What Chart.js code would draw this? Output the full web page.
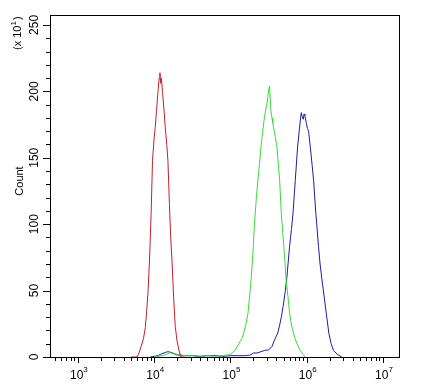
<!DOCTYPE html>
<html>
<head>
<meta charset="utf-8">
<script src="https://cdn.jsdelivr.net/npm/chart.js@4"></script>
<style>
  body { margin: 0; background: #fff; }
  #wrap { width: 425px; height: 386px; }
</style>
</head>
<body>
<div id="wrap"><canvas id="chart" width="425" height="386"></canvas></div>
<script>
// x values are log10 of the fluorescence intensity
const redX = [3.70, 3.775, 3.80, 3.83, 3.86, 3.883, 3.90, 3.92, 3.939, 3.96, 3.978, 4.00, 4.014, 4.03, 4.049, 4.065, 4.075, 4.085, 4.095, 4.11, 4.13, 4.145, 4.165, 4.18, 4.20, 4.215, 4.233, 4.255, 4.276, 4.30, 4.325, 4.351, 4.40];
const redY = [0, 0, 3, 8, 14, 22, 33, 50, 73, 108, 148, 165, 173, 185, 199, 210, 214, 206, 210, 199, 185, 173, 160, 148, 115, 92, 73, 45, 23, 12, 5, 0, 0];

const greenX = [4.00, 4.10, 4.16, 4.20, 4.25, 4.30, 4.40, 4.50, 4.60, 4.70, 4.80, 4.90, 4.97, 5.00, 5.06, 5.10, 5.16, 5.20, 5.23, 5.25, 5.27, 5.285, 5.30, 5.31, 5.325, 5.34, 5.36, 5.38, 5.40, 5.42, 5.44, 5.456, 5.475, 5.49, 5.50, 5.513, 5.525, 5.535, 5.545, 5.555, 5.566, 5.59, 5.61, 5.645, 5.667, 5.70, 5.73, 5.755, 5.775, 5.80, 5.84, 5.88, 5.915, 5.95, 5.98];
const greenY = [0, 1, 2, 3, 3, 2, 1, 1, 0.5, 1, 0.5, 1, 1.5, 2, 5, 9, 15, 24, 33, 45, 58, 70, 83, 95, 108, 120, 133, 145, 158, 168, 178, 184, 190, 195, 201, 204, 190, 183, 180, 176, 173, 165, 158, 133, 108, 83, 58, 45, 33, 24, 15, 9, 5, 2, 0];

const blueX = [3.95, 4.00, 4.05, 4.10, 4.15, 4.18, 4.22, 4.26, 4.30, 4.40, 4.50, 4.60, 4.70, 4.80, 4.90, 5.00, 5.10, 5.20, 5.26, 5.30, 5.35, 5.40, 5.45, 5.50, 5.545, 5.58, 5.62, 5.645, 5.667, 5.69, 5.72, 5.74, 5.755, 5.775, 5.80, 5.82, 5.85, 5.88, 5.903, 5.92, 5.929, 5.94, 5.955, 5.965, 5.975, 5.995, 6.01, 6.025, 6.047, 6.07, 6.09, 6.12, 6.155, 6.175, 6.20, 6.23, 6.256, 6.29, 6.32, 6.35, 6.40, 6.46];
const blueY = [0, 0.5, 1, 2.5, 3.5, 4, 3.5, 2.5, 1.5, 1, 1, 0.5, 1, 1, 0.5, 1, 1, 1, 1.5, 3, 3, 4, 5, 5.3, 8, 13, 18, 24, 30, 38, 50, 60, 70, 83, 96, 108, 133, 158, 171, 180, 184, 181, 179, 183, 182, 176, 172, 170, 158, 145, 133, 108, 83, 70, 58, 45, 33, 18, 10, 5, 2, 0];

const xMajor = [3, 4, 5, 6, 7];
const xLabels = ['3', '4', '5', '6', '7'];
const yMajor = [0, 50, 100, 150, 200, 250];
const yMinorStep = 10;
const xMin = 2.634, xMax = 7.21;
const yMin = 0, yMax = 257.5;

function toPoints(xs, ys) {
    return xs.map((x, i) => ({ x: x, y: ys[i] }));
}

const axisPlugin = {
    id: 'axisPlugin',
    afterDraw(chart) {
        const ctx = chart.ctx;
        const area = chart.chartArea;
        const xs = chart.scales.x;
        const ys = chart.scales.y;
        ctx.save();
        ctx.strokeStyle = '#000';
        ctx.fillStyle = '#000';
        ctx.lineWidth = 1;
        ctx.strokeRect(Math.round(area.left) + 0.5, Math.round(area.top) + 0.5,
            Math.round(area.right - area.left), Math.round(area.bottom - area.top));

        // x ticks (log decades)
        ctx.beginPath();
        for (let d = 2; d <= 7; d++) {
            for (let m = 1; m <= 9; m++) {
                const v = d + Math.log10(m);
                if (v < xMin || v > xMax) continue;
                const px = Math.round(xs.getPixelForValue(v)) + 0.5;
                const len = m === 1 ? 6 : 4;
                ctx.moveTo(px, area.bottom);
                ctx.lineTo(px, area.bottom + len);
            }
        }
        // y ticks
        for (let v = yMin; v <= yMax; v += yMinorStep) {
            const py = Math.round(ys.getPixelForValue(v)) + 0.5;
            const len = v % 50 === 0 ? 7 : 4;
            ctx.moveTo(area.left, py);
            ctx.lineTo(area.left - len, py);
        }
        ctx.stroke();

        // x labels
        ctx.textBaseline = 'alphabetic';
        xMajor.forEach((v, i) => {
            const px = xs.getPixelForValue(v);
            ctx.font = '12px "Liberation Sans", Arial, sans-serif';
            const w1 = ctx.measureText('10').width;
            ctx.font = '8px "Liberation Sans", Arial, sans-serif';
            const w2 = ctx.measureText(xLabels[i]).width;
            const start = px - (w1 + w2) / 2 + 1;
            ctx.font = '12px "Liberation Sans", Arial, sans-serif';
            ctx.textAlign = 'left';
            ctx.fillText('10', start, 379);
            ctx.font = '8px "Liberation Sans", Arial, sans-serif';
            ctx.fillText(xLabels[i], start + w1, 372);
        });

        // y labels rotated
        ctx.font = '12px "Liberation Sans", Arial, sans-serif';
        ctx.textAlign = 'center';
        yMajor.forEach(v => {
            const py = ys.getPixelForValue(v);
            ctx.save();
            ctx.translate(38, py);
            ctx.rotate(-Math.PI / 2);
            ctx.fillText(String(v), 0, 0);
            ctx.restore();
        });

        // axis title and multiplier
        ctx.save();
        ctx.translate(23, 181);
        ctx.rotate(-Math.PI / 2);
        ctx.font = '11px "Liberation Sans", Arial, sans-serif';
        ctx.fillText('Count', 0, 0);
        ctx.restore();

        ctx.save();
        ctx.translate(21, 50);
        ctx.rotate(-Math.PI / 2);
        ctx.textAlign = 'left';
        ctx.font = '11px "Liberation Sans", Arial, sans-serif';
        ctx.fillText('(x 10', 0, 0);
        const w = ctx.measureText('(x 10').width;
        ctx.font = '8px "Liberation Sans", Arial, sans-serif';
        ctx.fillText('1', w, -5);
        const w3 = ctx.measureText('1').width;
        ctx.font = '11px "Liberation Sans", Arial, sans-serif';
        ctx.fillText(')', w + w3 + 1, 0);
        ctx.restore();

        ctx.restore();
    }
};

const ctx = document.getElementById('chart').getContext('2d');
new Chart(ctx, {
    type: 'line',
    data: {
        datasets: [
            { label: 'red', data: toPoints(redX, redY), borderColor: '#c41e2a' },
            { label: 'green', data: toPoints(greenX, greenY), borderColor: '#3ad83a' },
            { label: 'blue', data: toPoints(blueX, blueY), borderColor: '#1c1ca4' }
        ]
    },
    options: {
        responsive: false,
        animation: false,
        parsing: true,
        elements: {
            line: { borderWidth: 1, tension: 0, fill: false },
            point: { radius: 0 }
        },
        layout: { padding: { left: 50, right: 26, top: 15, bottom: 29 } },
        plugins: {
            legend: { display: false },
            tooltip: { enabled: false }
        },
        scales: {
            x: { type: 'linear', min: xMin, max: xMax, display: false },
            y: { type: 'linear', min: yMin, max: yMax, display: false }
        }
    },
    plugins: [axisPlugin]
});
</script>
</body>
</html>
